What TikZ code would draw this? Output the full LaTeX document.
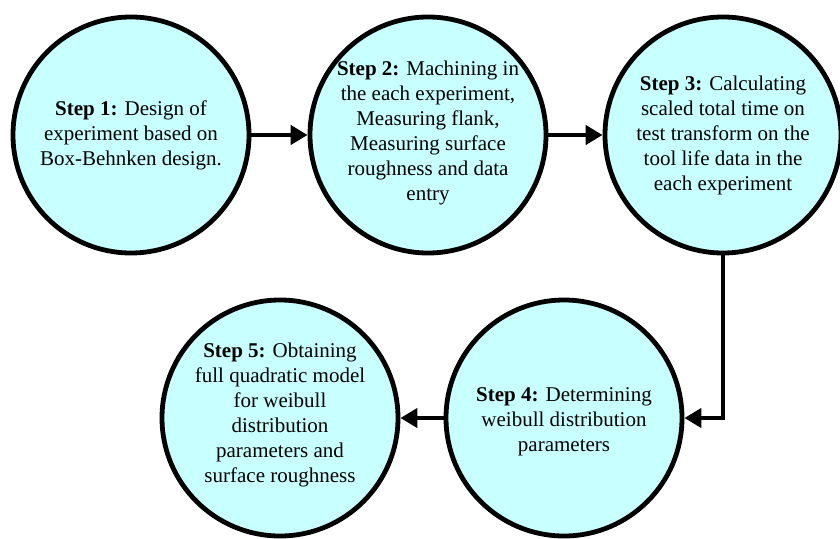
\documentclass[tikz,border=0pt]{standalone}
\usepackage{fontspec}
\setmainfont{Liberation Serif}
\usetikzlibrary{arrows.meta}
\definecolor{stepfill}{HTML}{C8FFFF}
\tikzset{
  stepcircle/.style={circle, draw=black, line width=4.8pt, fill=stepfill,
    minimum size=236pt, inner sep=0pt},
  steptext/.style={align=center, inner sep=0pt,
    font=\fontsize{21pt}{25pt}\selectfont},
  flow/.style={line width=4.5pt, -{Triangle[length=17pt,width=19pt]}}
}
\begin{document}
\begin{tikzpicture}[x=1pt,y=-1pt]
  \useasboundingbox (0,0) rectangle (840,538);
  % circles
  \node[stepcircle] (s1) at (131,135) {};
  \node[stepcircle] (s2) at (428,135) {};
  \node[stepcircle] (s3) at (723,135) {};
  \node[stepcircle] (s4) at (564,418) {};
  \node[stepcircle] (s5) at (280,418) {};
  % connectors
  \draw[flow] (s1.east) -- (s2.west);
  \draw[flow] (s2.east) -- (s3.west);
  \draw[flow] (s3.south) |- (s4.east);
  \draw[flow] (s4.west) -- (s5.east);
  % labels
  \node[steptext] (t1) at (131,135) {\textbf{Step 1:} Design of\\experiment based on\\Box-Behnken design.};
  \node[steptext] (t2) at (428,133) {\textbf{Step 2:} Machining in\\the each experiment,\\Measuring flank,\\Measuring surface\\roughness and data\\entry};
  \node[steptext] (t3) at (723,135) {\textbf{Step 3:} Calculating\\scaled total time on\\test transform on the\\tool life data in the\\each experiment};
  \node[steptext] (t4) at (564,422) {\textbf{Step 4:} Determining\\weibull distribution\\parameters};
  \node[steptext] (t5) at (280,415) {\textbf{Step 5:} Obtaining\\full quadratic model\\for weibull\\distribution\\parameters and\\surface roughness};
\end{tikzpicture}
\end{document}
